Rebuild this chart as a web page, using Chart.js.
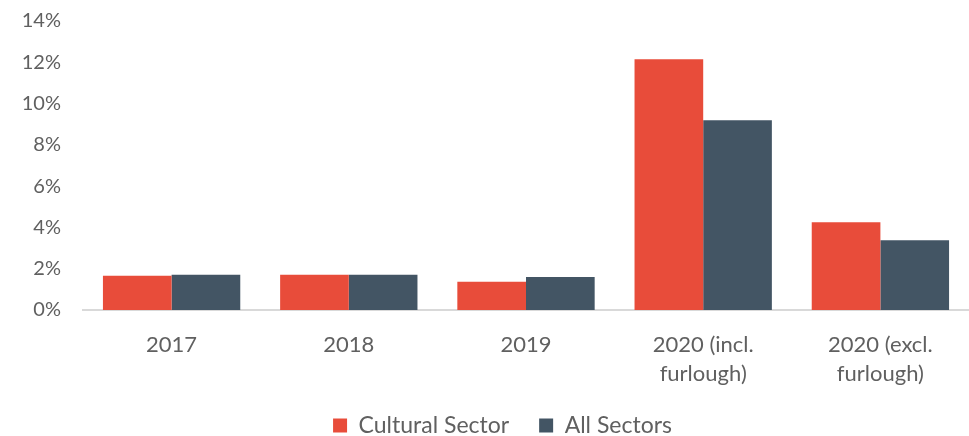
<!DOCTYPE html>
<html>
<head>
<meta charset="utf-8">
<script src="https://cdn.jsdelivr.net/npm/chart.js@4/dist/chart.umd.min.js"></script>
<style>
  html, body { margin: 0; padding: 0; background: #fff; }
  #wrap { width: 969px; height: 436px; position: relative; }
</style>
</head>
<body>
<div id="wrap"><canvas id="rates"></canvas></div>
<script>
var categories = ['2017', '2018', '2019', ['2020 (incl.', 'furlough)'], ['2020 (excl.', 'furlough)']];
var cultural = [1.65, 1.71, 1.37, 12.15, 4.25];
var allSectors = [1.70, 1.70, 1.59, 9.19, 3.38];
var yTicks = [0, 2, 4, 6, 8, 10, 12, 14];

var textColor = '#606060';
Chart.defaults.font.family = 'Lato, "Open Sans", sans-serif';
Chart.defaults.color = textColor;

// the legend keeps wide gaps between items but only a short box;
// grow it upward after layout so the row still fits inside its clip area
var legendShift = {
    id: 'legendShift',
    afterLayout: function(chart) {
        var lg = chart.legend;
        if (!lg) return;
        lg.left += 36;
        lg.top -= 24;
        lg.height += 24;
    }
};

var ctx = document.getElementById('rates');
var chart = new Chart(ctx, {
    type: 'bar',
    data: {
        labels: categories,
        datasets: [{
            label: 'Cultural Sector',
            data: cultural,
            backgroundColor: '#E84C3A',
            borderWidth: 0
        }, {
            label: 'All Sectors',
            data: allSectors,
            backgroundColor: '#435564',
            borderWidth: 0
        }]
    },
    plugins: [legendShift],
    options: {
        responsive: true,
        maintainAspectRatio: false,
        animation: false,
        layout: { padding: { top: 21, right: 0, bottom: 0, left: 0 } },
        datasets: {
            bar: { categoryPercentage: 0.775, barPercentage: 1.0 }
        },
        plugins: {
            tooltip: { enabled: false },
            legend: {
                position: 'bottom',
                maxHeight: 28,
                labels: {
                    boxWidth: 14,
                    boxHeight: 14,
                    padding: 30,
                    font: { size: 23 },
                    color: textColor
                }
            }
        },
        scales: {
            x: {
                grid: { display: false, drawTicks: false },
                border: { display: true, color: '#d9d9d9', width: 2 },
                ticks: {
                    font: { size: 22, lineHeight: 1.32 },
                    color: textColor,
                    padding: 20,
                    maxRotation: 0,
                    autoSkip: false
                }
            },
            y: {
                min: 0,
                max: 14,
                afterFit: function(scale) {
                    scale.width = 83;
                    scale.paddingTop = 0;
                },
                afterBuildTicks: function(scale) {
                    scale.ticks = yTicks.map(function(v) { return { value: v }; });
                },
                grid: { display: false, drawTicks: false },
                border: { display: false },
                ticks: {
                    font: { size: 20 },
                    color: textColor,
                    padding: 22,
                    callback: function(v) { return v + '%'; }
                }
            }
        }
    }
});
</script>
</body>
</html>
